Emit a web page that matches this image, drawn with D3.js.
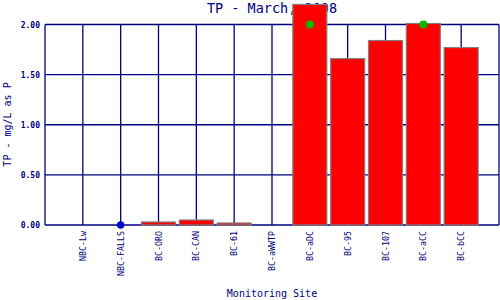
<!DOCTYPE html>
<html lang="en">
  <head>
    <meta charset="UTF-8" />
    <title>TP - March, 2008</title>
    <script src="https://cdn.jsdelivr.net/npm/d3@7"></script>
    <style>
      body { margin: 0; background: #fff; }
      svg { display: block; }
      text { font-family: "DejaVu Sans Mono", monospace; fill: #000080; }
    </style>
  </head>
  <body>
    <div id="chart"></div>
    <script>
      // chart data
      const sites = ["NBC-Lw", "NBC-FALLS", "BC-ORO", "BC-CAN", "BC-61", "BC-aWWTP",
        "BC-aDC", "BC-95", "BC-107", "BC-aCC", "BC-bCC"];
      // bar values (null = no bar)
      const tpValues = [0, null, 0.03, 0.05, 0.02, 0, 2.2, 1.66, 1.84, 2.01, 1.77];
      // green points
      const greenPoints = [null, null, null, null, null, null, 2.0, null, null, 2.0, null];
      // blue points
      const bluePoints = [null, 0, null, null, null, null, null, null, null, null, null];
      const yTicks = [0, 0.5, 1, 1.5, 2];

      const W = 500, H = 300;
      const plotLeft = 45, plotRight = 499, plotTop = 24.5, plotBottom = 225;
      const navy = "#000080";

      const svg = d3.select("#chart").append("svg")
        .attr("width", W).attr("height", H);

      // one empty slot on each side, categories at 1..11
      let x = d3.scaleLinear().domain([0, sites.length + 1]).range([plotLeft, plotRight]);
      let y = d3.scaleLinear().domain([0, 2]).range([plotBottom, plotTop]);
      const barW = 34;

      // title (drawn first, bars cover part of it)
      svg.append("text")
        .attr("x", 272).attr("y", 13)
        .attr("text-anchor", "middle")
        .style("font-size", "13.5px")
        .text("TP - March, 2008");

      // grid
      svg.append("g").selectAll("line").data(yTicks).join("line")
        .attr("x1", plotLeft).attr("x2", plotRight)
        .attr("y1", d => y(d)).attr("y2", d => y(d))
        .attr("stroke", navy).attr("stroke-width", 1.3);
      svg.append("g").selectAll("line").data(d3.range(0, sites.length + 2)).join("line")
        .attr("x1", d => x(d)).attr("x2", d => x(d))
        .attr("y1", plotTop).attr("y2", plotBottom)
        .attr("stroke", navy).attr("stroke-width", 1.3);

      // y tick labels
      svg.append("g").selectAll("text").data(yTicks).join("text")
        .attr("x", 40).attr("y", d => y(d) + 3)
        .attr("text-anchor", "end")
        .style("font-size", "8px").style("font-weight", "bold")
        .text(d => d3.format(".2f")(d));

      // bars
      const barData = sites.map((s, i) => ({ i: i, v: tpValues[i] })).filter(d => d.v !== null);
      svg.append("g").selectAll("rect").data(barData).join("rect")
        .attr("x", d => x(d.i + 1) - barW / 2)
        .attr("width", barW)
        .attr("y", d => y(d.v))
        .attr("height", d => y(0) - y(d.v))
        .attr("fill", "#ff0000")
        .attr("stroke", "#808080")
        .attr("stroke-width", 1.2);

      // points
      svg.append("g").selectAll("circle")
        .data(greenPoints.map((v, i) => ({ i, v })).filter(d => d.v !== null))
        .join("circle")
        .attr("cx", d => x(d.i + 1)).attr("cy", d => y(d.v))
        .attr("r", 4).attr("fill", "#00bb00");
      svg.append("g").selectAll("circle")
        .data(bluePoints.map((v, i) => ({ i, v })).filter(d => d.v !== null))
        .join("circle")
        .attr("cx", d => x(d.i + 1)).attr("cy", d => y(d.v))
        .attr("r", 3.7).attr("fill", "#0000cc");

      // x labels, rotated
      svg.append("g").selectAll("text").data(sites).join("text")
        .attr("transform", (d, i) => "translate(" + (x(i + 1) + 3) + ",231) rotate(-90)")
        .attr("text-anchor", "end")
        .style("font-size", "8.3px")
        .text(d => d);

      // axis titles
      svg.append("text")
        .attr("x", 272).attr("y", 297)
        .attr("text-anchor", "middle")
        .style("font-size", "10px")
        .text("Monitoring Site");
      svg.append("text")
        .attr("transform", "translate(11,124.5) rotate(-90)")
        .attr("text-anchor", "middle")
        .style("font-size", "10px")
        .text("TP - mg/L as P");
    </script>
  </body>
</html>
